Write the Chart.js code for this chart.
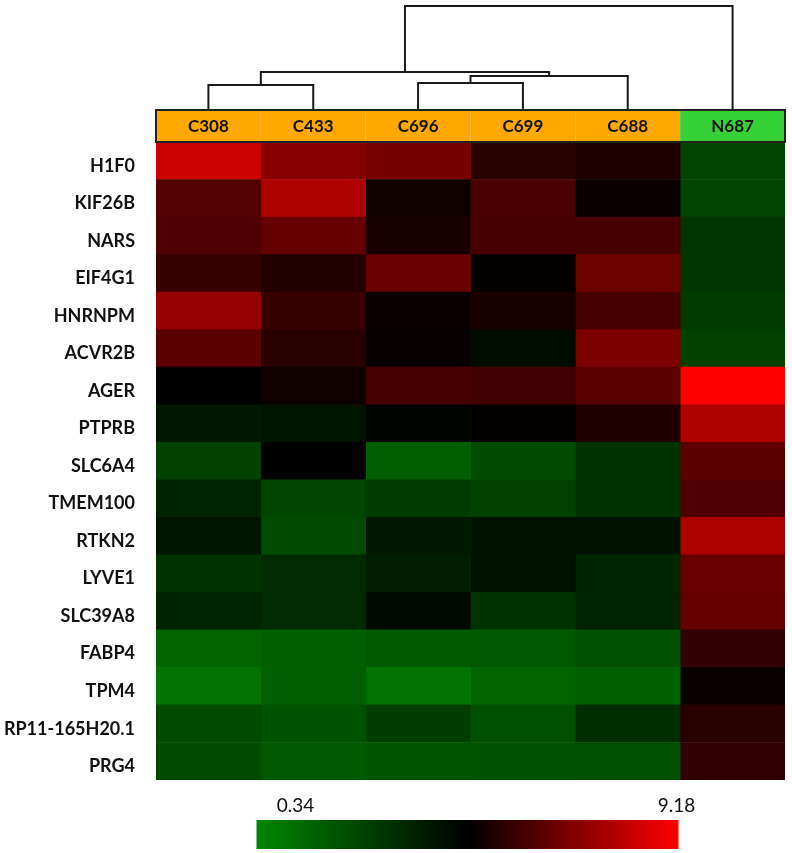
<!DOCTYPE html>
<html>
<head>
<meta charset="utf-8">
<script src="https://cdn.jsdelivr.net/npm/chart.js@4"></script>
<style>
  body { margin: 0; background: #fff; }
  #wrap { width: 792px; height: 853px; position: relative; }
</style>
</head>
<body>
<div id="wrap"><canvas id="myChart"></canvas></div>
<script>
// samples (columns) and genes (rows, top to bottom)
const samples = ["C308", "C433", "C696", "C699", "C688", "N687"];
const sampleGroups = ["tumor", "tumor", "tumor", "tumor", "tumor", "normal"];
const genes = ["H1F0", "KIF26B", "NARS", "EIF4G1", "HNRNPM", "ACVR2B", "AGER", "PTPRB",
  "SLC6A4", "TMEM100", "RTKN2", "LYVE1", "SLC39A8", "FABP4", "TPM4", "RP11-165H20.1", "PRG4"];

// expression values per sample, same order as genes
const C308 = [8.31, 6.23, 6.15, 5.71, 7.36, 6.32, 4.76, 3.94, 2.63, 3.61, 4.11, 3.12, 3.61, 1.49, 0.99, 2.30, 2.30];
const C433 = [7.10, 7.79, 6.49, 5.37, 5.71, 5.45, 5.02, 4.11, 4.76, 2.47, 2.30, 3.38, 3.38, 1.65, 1.65, 2.08, 1.88];
const C696 = [6.84, 5.02, 5.19, 6.58, 4.93, 4.90, 5.97, 4.66, 1.65, 2.80, 3.94, 3.78, 4.43, 1.81, 0.99, 2.73, 1.98];
const C699 = [5.45, 6.06, 5.97, 4.85, 5.19, 4.37, 5.89, 4.81, 2.30, 2.63, 4.17, 4.17, 3.12, 1.88, 1.49, 2.21, 2.08];
const C688 = [5.28, 4.93, 5.97, 6.67, 5.97, 6.93, 6.32, 5.28, 3.12, 3.12, 4.17, 3.52, 3.61, 2.21, 1.65, 3.29, 2.14];
const N687 = [2.47, 2.47, 2.96, 2.96, 2.80, 2.63, 9.18, 7.79, 6.41, 6.15, 7.71, 6.58, 6.49, 5.63, 4.93, 5.45, 5.63];
const columns = [C308, C433, C696, C699, C688, N687];

// colour scale limits
const scaleMin = 0.34;
const scaleMax = 9.18;

// dendrogram: node ids 0-5 are samples, each merge makes a new node (6, 7, ...)
const dendroLeft = [0, 2, 7, 6, 9];
const dendroRight = [1, 3, 4, 8, 5];
const dendroHeight = [0.24, 0.26, 0.327, 0.365, 1.0];

function heatColor(v) {
  const mid = (scaleMin + scaleMax) / 2;
  if (v <= mid) {
    const g = Math.round(135 * Math.min(1, (mid - v) / (mid - scaleMin)));
    return "rgb(0," + g + ",0)";
  }
  const r = Math.round(255 * Math.min(1, (v - mid) / (scaleMax - mid)));
  return "rgb(" + r + ",0,0)";
}

const HEADER_H = 32;

const extras = {
  id: "extras",
  afterDatasetsDraw(chart) {
    const { ctx, chartArea } = chart;
    const x = chart.scales.x;
    const headTop = chartArea.top - HEADER_H;

    // header band with sample names
    ctx.save();
    samples.forEach((s, i) => {
      const x0 = x.getPixelForValue(i), x1 = x.getPixelForValue(i + 1);
      ctx.fillStyle = sampleGroups[i] === "normal" ? "rgb(55,208,55)" : "rgb(255,168,0)";
      ctx.fillRect(x0, headTop, x1 - x0, HEADER_H);
      ctx.fillStyle = "#111";
      ctx.font = "bold 17px Lato";
      ctx.textAlign = "center";
      ctx.textBaseline = "middle";
      ctx.fillText(s, (x0 + x1) / 2, headTop + HEADER_H / 2 + 1);
    });
    ctx.strokeStyle = "#222";
    ctx.lineWidth = 2;
    ctx.strokeRect(chartArea.left, headTop, chartArea.right - chartArea.left, HEADER_H);

    // dendrogram
    const span = headTop - 6;
    const nodeX = samples.map((s, i) => x.getPixelForValue(i + 0.5));
    const nodeY = samples.map(() => headTop);
    ctx.strokeStyle = "#1a1a1a";
    ctx.lineWidth = 2;
    dendroLeft.forEach((l, k) => {
      const r = dendroRight[k];
      const y = headTop - dendroHeight[k] * span;
      ctx.beginPath();
      ctx.moveTo(nodeX[l], nodeY[l]);
      ctx.lineTo(nodeX[l], y);
      ctx.lineTo(nodeX[r], y);
      ctx.lineTo(nodeX[r], nodeY[r]);
      ctx.stroke();
      nodeX.push((nodeX[l] + nodeX[r]) / 2);
      nodeY.push(y);
    });

    // colour key
    const cx = (chartArea.left + chartArea.right) / 2 - 3;
    const barW = 422, barTop = chartArea.bottom + 40, barH = 29;
    const bx = cx - barW / 2;
    const grad = ctx.createLinearGradient(bx, 0, bx + barW, 0);
    for (let t = 0; t <= 20; t++) {
      grad.addColorStop(t / 20, heatColor(scaleMin + (scaleMax - scaleMin) * t / 20));
    }
    ctx.fillStyle = grad;
    ctx.fillRect(bx, barTop, barW, barH);
    ctx.fillStyle = "#111";
    ctx.font = "19px Lato";
    ctx.textAlign = "center";
    ctx.textBaseline = "alphabetic";
    ctx.fillText(scaleMin.toFixed(2), bx + 39, barTop - 8);
    ctx.fillText(scaleMax.toFixed(2), bx + barW - 2, barTop - 8);
    ctx.restore();
  }
};

const ctx = document.querySelector("#myChart");

const myChart = new Chart(ctx, {
  type: "bar",
  data: {
    labels: genes,
    datasets: columns.map((vals, c) => ({
      label: samples[c],
      data: genes.map(() => [c, c + 1]),
      backgroundColor: vals.map(heatColor),
      borderWidth: 0,
      grouped: false,
      barPercentage: 1,
      categoryPercentage: 1,
    })),
  },
  options: {
    indexAxis: "y",
    responsive: true,
    maintainAspectRatio: false,
    animation: false,
    layout: { padding: { left: 0, right: 7, top: 142, bottom: 73 } },
    plugins: { legend: false, tooltip: { enabled: false } },
    scales: {
      x: { type: "linear", min: 0, max: samples.length, display: false },
      y: {
        grid: { display: false },
        border: { display: false },
        ticks: {
          color: "#111",
          padding: 13,
          labelOffset: 5,
          font: { family: "Lato", weight: "bold", size: 18 },
        },
        afterFit(scale) { scale.width = 156; },
      },
    },
  },
  plugins: [extras],
});
</script>
</body>
</html>
